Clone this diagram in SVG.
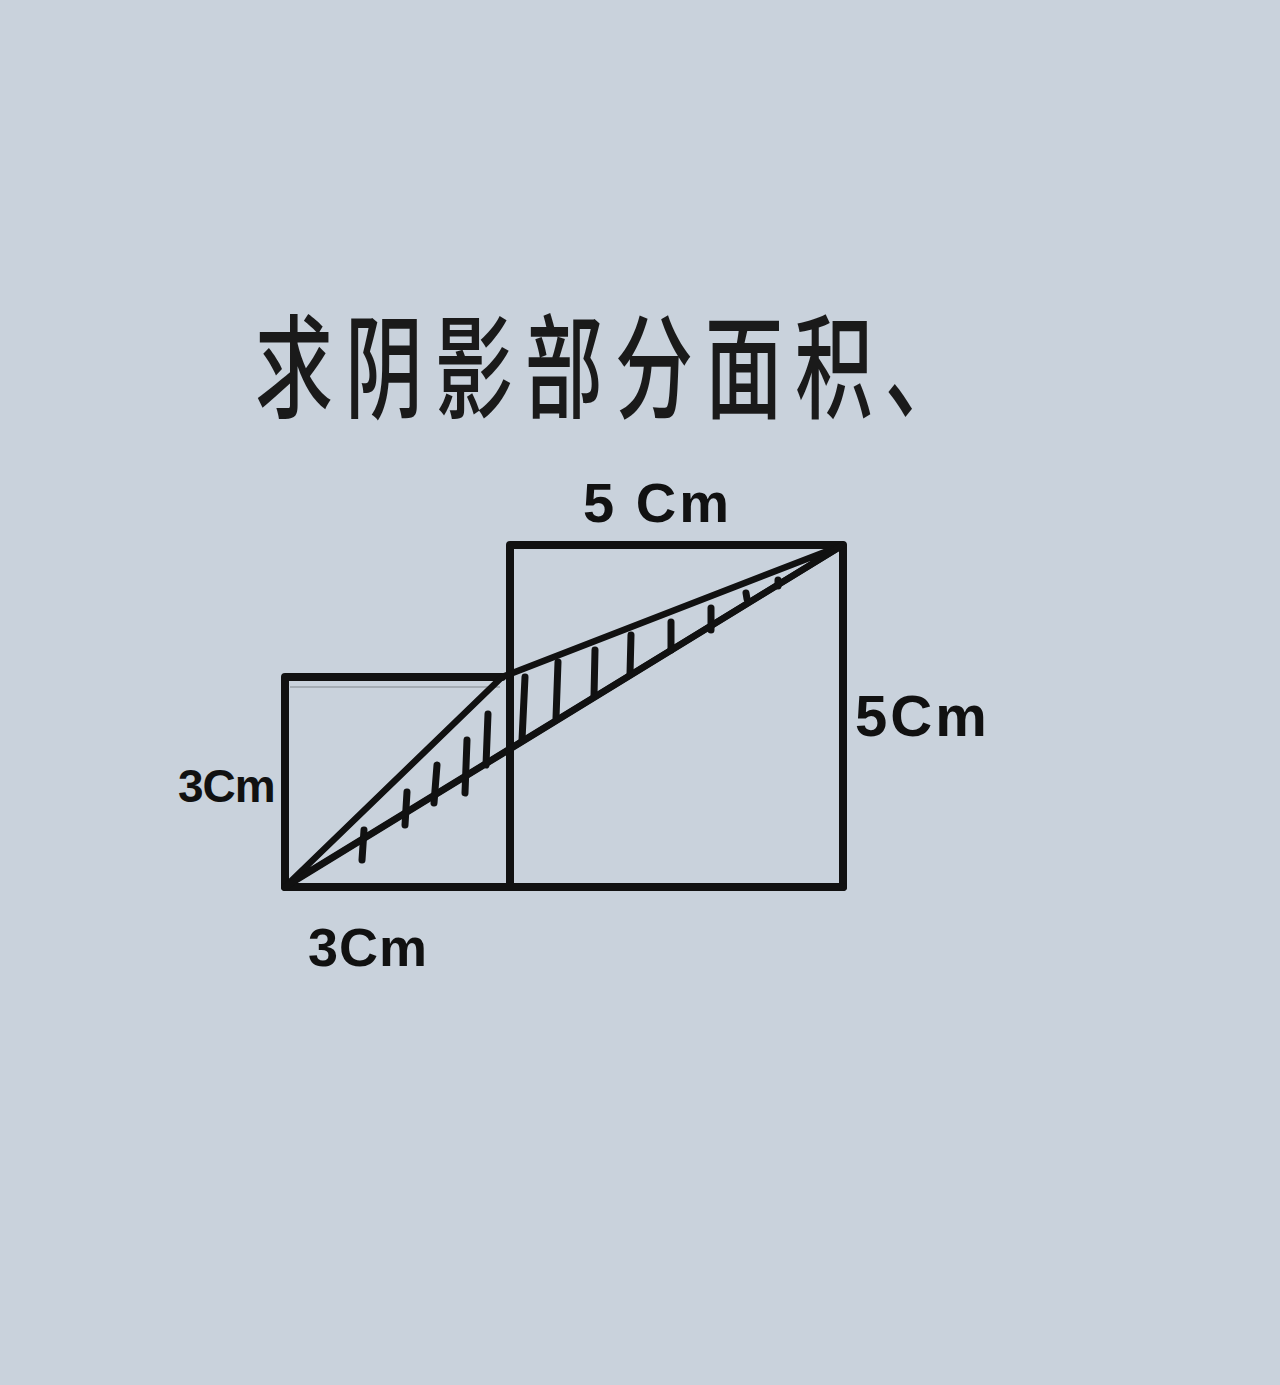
<svg xmlns="http://www.w3.org/2000/svg" width="1280" height="1385" viewBox="0 0 1280 1385">
<style>
.ink{stroke:#111;fill:none;stroke-linecap:round;stroke-linejoin:round}
.edge{stroke-width:8}
.diag{stroke-width:6.5}
.hatch{stroke:#111;stroke-width:7;stroke-linecap:round}
.lbl{font-family:"Liberation Sans",Arial,sans-serif;font-weight:bold;fill:#111}
.title{font-family:"Noto Sans CJK SC","Noto Sans",sans-serif;font-weight:500;fill:#1a1a1a}
</style>
<rect width="1280" height="1385" fill="#c9d2dc"/>
<text class="title" font-size="78" letter-spacing="12" transform="translate(255,409) scale(1,1.45)">求阴影部分面积、</text>
<g id="small-square">
<path class="ink edge" d="M285,887 L285,677 L502,677"/>
<line x1="290" y1="687" x2="500" y2="687" stroke="#8c939a" stroke-width="2" opacity="0.6"/>
</g>
<g id="big-square">
<rect class="ink edge" x="510" y="545" width="333" height="342"/>
</g>
<g id="bottom-line">
<line class="ink edge" x1="285" y1="887" x2="843" y2="887"/>
</g>
<g id="shaded-triangle">
<path class="ink diag" d="M287,885 L502,677 L843,545 Z"/>
<g id="hatching">
<line class="hatch" x1="364" y1="830" x2="362" y2="860"/>
<line class="hatch" x1="407" y1="792" x2="405" y2="825"/>
<line class="hatch" x1="437" y1="765" x2="434" y2="803"/>
<line class="hatch" x1="467" y1="740" x2="465" y2="793"/>
<line class="hatch" x1="488" y1="714" x2="486" y2="765"/>
<line class="hatch" x1="525" y1="677" x2="522" y2="740"/>
<line class="hatch" x1="558" y1="662" x2="556" y2="718"/>
<line class="hatch" x1="595" y1="650" x2="594" y2="696"/>
<line class="hatch" x1="631" y1="635" x2="630" y2="674"/>
<line class="hatch" x1="671" y1="622" x2="671" y2="650"/>
<line class="hatch" x1="711" y1="608" x2="711" y2="630"/>
<line class="hatch" x1="746" y1="593" x2="747" y2="599"/>
<line class="hatch" x1="778" y1="580" x2="778" y2="586"/>
</g>
</g>
<g id="connectors">
<line class="ink diag" x1="285" y1="887" x2="843" y2="545"/>
</g>
<g id="labels">
<text class="lbl" x="583" y="522" font-size="56" letter-spacing="3">5 Cm</text>
<text class="lbl" x="855" y="736" font-size="58" letter-spacing="3">5Cm</text>
<text class="lbl" x="178" y="802" font-size="46" letter-spacing="-1">3Cm</text>
<text class="lbl" x="308" y="966" font-size="54" letter-spacing="1">3Cm</text>
</g>
</svg>
